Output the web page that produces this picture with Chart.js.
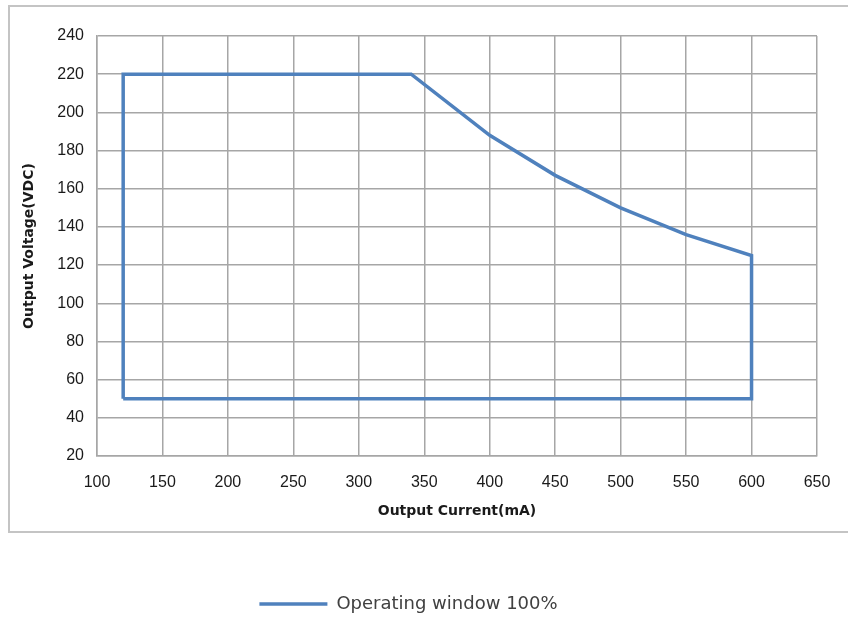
<!DOCTYPE html>
<html>
<head>
<meta charset="utf-8">
<script src="https://cdn.jsdelivr.net/npm/chart.js@4"></script>
<style>
  html, body { margin: 0; padding: 0; background: #fff; }
  #wrap { width: 848px; height: 617px; }
</style>
</head>
<body>
<div id="wrap"><canvas id="chart" width="848" height="617"></canvas></div>
<script>
// operating window outline, walked round clockwise from bottom-left
const currentMA = [120, 120, 340, 400, 450, 500, 550, 600, 600, 120];
const voltageVDC = [50, 220, 220, 188, 167, 150, 136, 125, 50, 50];

const seriesName = 'Operating window 100%';
const xTitle = 'Output Current(mA)';
const yTitle = 'Output Voltage(VDC)';

const xMin = 100, xMax = 650, xStep = 50;
const yMin = 20, yMax = 240, yStep = 20;

const points = currentMA.map((x, i) => ({ x, y: voltageVDC[i] }));

// light frame round the plot like the original picture,
// and nudge the legend a little lower
const framePlugin = {
  id: 'frame',
  afterLayout(chart) {
    if (chart.legend) {
      chart.legend.top += 6;
      chart.legend.bottom += 6;
    }
  },
  beforeDraw(chart) {
    const ctx = chart.ctx;
    ctx.save();
    ctx.fillStyle = '#fff';
    ctx.fillRect(0, 0, chart.width, chart.height);
    ctx.strokeStyle = '#c4c4c4';
    ctx.lineWidth = 2;
    ctx.strokeRect(9, 6, 850, 526);
    ctx.restore();
  }
};

const tickFont = { family: 'Liberation Sans', size: 16 };
const titleFont = { family: 'DejaVu Sans', size: 14, weight: 'bold' };
const gridColor = '#a6a6a6';

new Chart(document.getElementById('chart'), {
  type: 'scatter',
  data: {
    datasets: [{
      label: seriesName,
      data: points,
      showLine: true,
      borderColor: '#4f81bd',
      backgroundColor: '#4f81bd',
      borderWidth: 3.5,
      pointRadius: 0,
      pointStyle: 'line',
      tension: 0
    }]
  },
  options: {
    responsive: false,
    animation: false,
    devicePixelRatio: 1,
    layout: { padding: { left: 0, right: 31, top: 36, bottom: 0 } },
    plugins: {
      tooltip: { enabled: false },
      legend: {
        position: 'bottom',
        labels: {
          usePointStyle: true,
          pointStyleWidth: 68,
          color: '#404040',
          font: { family: 'DejaVu Sans', size: 18 },
          padding: 4
        }
      }
    },
    scales: {
      x: {
        type: 'linear',
        min: xMin, max: xMax,
        ticks: { stepSize: xStep, color: '#1a1a1a', font: tickFont, padding: 17 },
        grid: { color: gridColor, lineWidth: 1.5, drawTicks: false },
        border: { color: gridColor, width: 1.5 },
        title: { display: true, text: xTitle, color: '#1a1a1a', font: titleFont, padding: { top: 6, bottom: 65 } },
        afterFit(scale) {
          // keep the plot bottom at 456px whatever the legend height is
          const legendH = scale.chart.legend ? scale.chart.legend.height : 28;
          scale.height = 617 - 456 - legendH;
        }
      },
      y: {
        type: 'linear',
        min: yMin, max: yMax,
        ticks: { stepSize: yStep, color: '#1a1a1a', font: tickFont, padding: 13 },
        grid: { color: gridColor, lineWidth: 1.5, drawTicks: false },
        border: { color: gridColor, width: 1.5 },
        title: { display: true, text: yTitle, color: '#1a1a1a', font: titleFont, padding: { top: 21, bottom: 0 } },
        afterFit(scale) { scale.width = 97; }
      }
    }
  },
  plugins: [framePlugin]
});
</script>
</body>
</html>
